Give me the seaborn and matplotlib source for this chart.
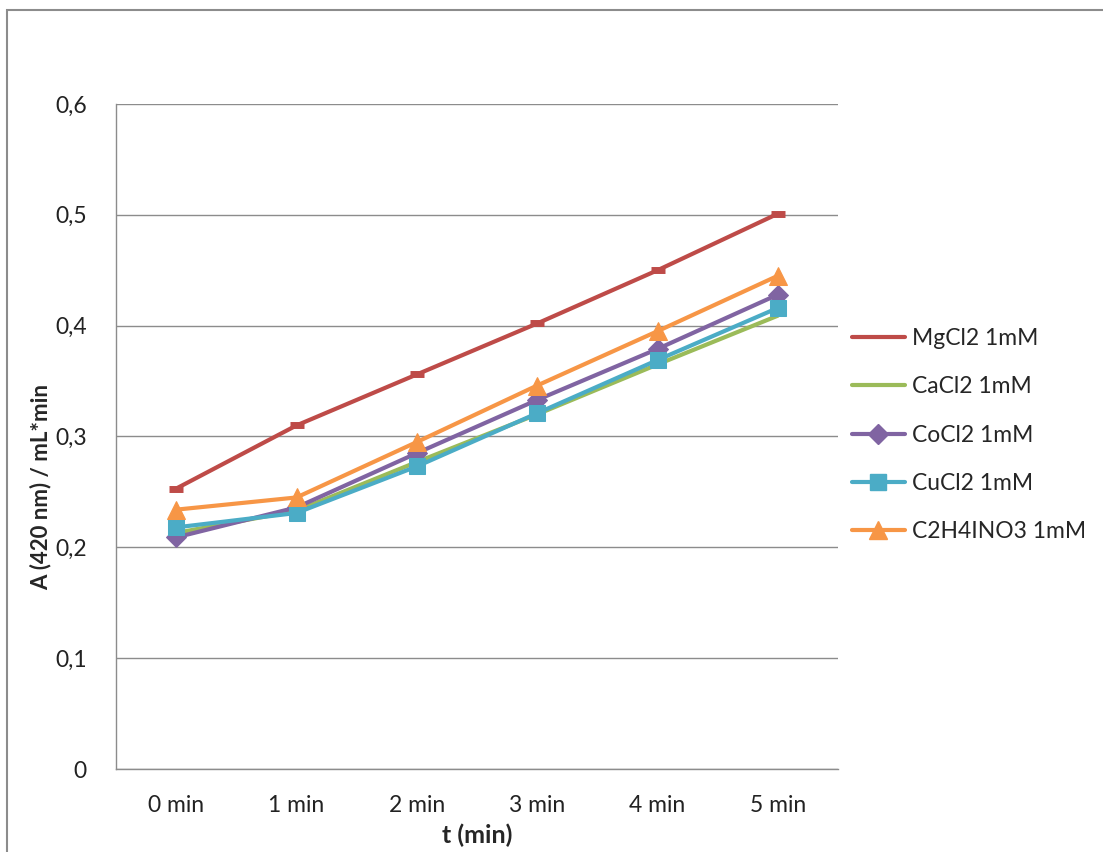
import matplotlib
matplotlib.use("Agg")
import matplotlib.pyplot as plt
import seaborn as sns
import numpy as np
from matplotlib.lines import Line2D
from matplotlib.patches import Rectangle
from matplotlib.ticker import FixedLocator, FuncFormatter

categories = ["0 min", "1 min", "2 min", "3 min", "4 min", "5 min"]
series_names = ["MgCl2 1mM", "CaCl2 1mM", "CoCl2 1mM", "CuCl2 1mM", "C2H4INO3 1mM"]
mgcl2 = [0.253, 0.310, 0.356, 0.402, 0.450, 0.501]
cacl2 = [0.213, 0.233, 0.277, 0.320, 0.365, 0.409]
cocl2 = [0.209, 0.236, 0.285, 0.333, 0.379, 0.428]
cucl2 = [0.218, 0.231, 0.273, 0.321, 0.369, 0.416]
c2h4ino3 = [0.234, 0.245, 0.295, 0.346, 0.395, 0.445]
y_ticks = [0, 0.1, 0.2, 0.3, 0.4, 0.5, 0.6]

colors = ["#BE4B48", "#9BBB59", "#8064A2", "#4BACC6", "#F79646"]
markers = ["_", None, "D", "s", "^"]
msizes = [10, 0, 10, 12, 13]
values = [mgcl2, cacl2, cocl2, cucl2, c2h4ino3]

sns.set_style("white")
plt.rcParams['font.family'] = ['Lato', 'DejaVu Sans']

fig = plt.figure(figsize=(11.03, 8.52), dpi=100)
fig.patch.set_facecolor("white")
fig.patches.append(Rectangle((7/1103, -0.1), 1.2, 1 - 10/852 + 0.1, transform=fig.transFigure,
                             fill=False, edgecolor="#8C8C8C", linewidth=1.5))

ax = fig.add_axes([116/1103, 1 - 769/852, (838 - 116)/1103, (769 - 104)/852])

for name, vals, c, m, ms in zip(series_names, values, colors, markers, msizes):
    kw = dict(x=categories, y=vals, color=c, linewidth=3.0, ax=ax, legend=False, sort=False)
    if m is not None:
        kw.update(marker=m, markersize=ms, markeredgecolor=c, markerfacecolor=c)
        if m == "_":
            kw.update(markeredgewidth=5)
    sns.lineplot(**kw)

ax.set_xlim(-0.5, 5.5)
ax.set_ylim(0, 0.6)
ax.set_yticks(y_ticks)
ax.yaxis.set_major_formatter(FuncFormatter(lambda v, p: "0" if v == 0 else f"{v:.1f}".replace(".", ",")))
ax.set_xticks(range(len(categories)))
ax.set_xticklabels(categories)
ax.xaxis.set_minor_locator(FixedLocator(np.arange(-0.5, 6.0, 1.0)))
ax.tick_params(axis="x", which="major", length=0, pad=19, labelsize=16.5, colors="#222222")
ax.tick_params(axis="x", which="minor", length=7, width=1, color="#8C8C8C", direction="out")
ax.tick_params(axis="y", which="major", length=7, width=1, color="#8C8C8C", direction="out",
               labelsize=16.5, pad=14, labelcolor="#222222")
ax.yaxis.grid(True, color="#8C8C8C", linewidth=1)
ax.xaxis.grid(False)
ax.set_axisbelow(True)
for s in ["top", "right"]:
    ax.spines[s].set_visible(False)
for s in ["left", "bottom"]:
    ax.spines[s].set_color("#8C8C8C")
    ax.spines[s].set_linewidth(1)

ax.set_xlabel("t (min)", fontsize=18, fontweight="bold")
ax.xaxis.set_label_coords(0.5, -(835 - 769) / 665, transform=ax.transAxes)
ax.xaxis.label.set_va("center")
ax.set_ylabel("A (420 nm) / mL*min", fontsize=16, fontweight="bold")
ax.yaxis.set_label_coords((41 - 116) / 722, (769 - 487) / 665, transform=ax.transAxes)
ax.yaxis.label.set_va("center")

handles = []
for c, m, ms in zip(colors, markers, msizes):
    if m in (None, "_"):
        handles.append(Line2D([], [], color=c, linewidth=3.0))
    else:
        handles.append(Line2D([], [], color=c, linewidth=3.0, marker=m, markersize=ms,
                              markerfacecolor=c, markeredgecolor=c))
fig.legend(handles, series_names, loc="upper left", bbox_to_anchor=(852/1103, 1 - 328/852),
           frameon=False, fontsize=16.5, handlelength=2.3, handletextpad=0.3, labelspacing=1.19,
           borderaxespad=0, borderpad=0)

fig.savefig("out.png", dpi=100, facecolor="white")
